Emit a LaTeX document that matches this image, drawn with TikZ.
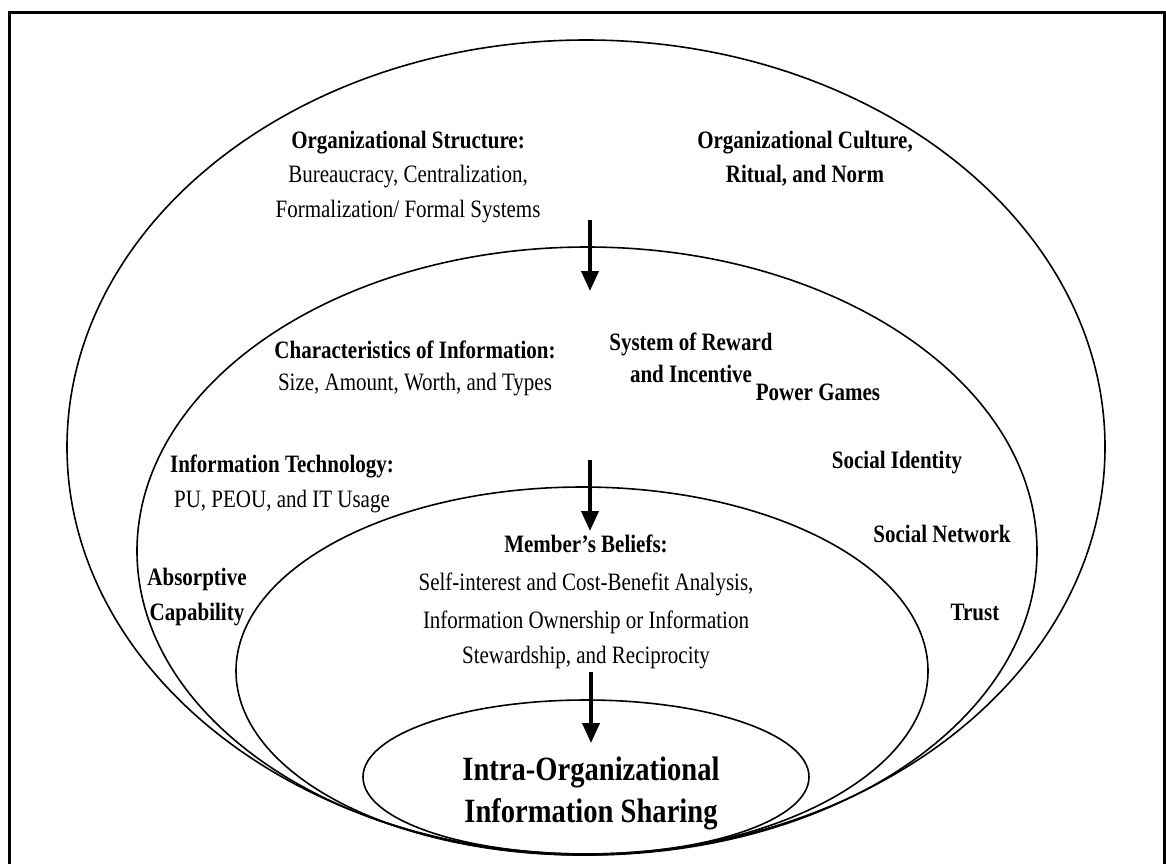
\documentclass[tikz,border=0pt]{standalone}
\usepackage{fontspec}
\setmainfont{Liberation Serif}[FakeStretch=0.84]
\usetikzlibrary{shapes.geometric,arrows.meta}
\tikzset{
  lbl/.style={inner sep=0pt, anchor=base, font=\fontsize{25}{35}\selectfont},
  hd/.style={inner sep=0pt, anchor=base, font=\fontsize{25}{35}\selectfont\bfseries},
  big/.style={inner sep=0pt, anchor=base, font=\fontsize{34}{42}\selectfont\bfseries},
  ring/.style={draw, ellipse, line width=1.6pt, inner sep=0pt},
  flow/.style={line width=4pt, -{Triangle[length=20pt,width=17pt]}},
  frame/.style={line width=3pt}
}
\begin{document}
\begin{tikzpicture}[x=1pt,y=-1pt]
\useasboundingbox (0,0) rectangle (1166,863);
% frame
\coordinate (f1) at (9,870);
\coordinate (f2) at (9,12);
\coordinate (f3) at (1164,12);
\coordinate (f4) at (1164,870);
\draw[frame] (f1) -- (f2) -- (f3) -- (f4);
% rings
\node[ring, minimum width=1038pt, minimum height=814pt] (outer) at (586,447) {};
\node[ring, minimum width=900pt, minimum height=608pt] (middle) at (587,551) {};
\node[ring, minimum width=692pt, minimum height=368pt] (inner) at (582,671) {};
\node[ring, minimum width=446pt, minimum height=154pt] (core) at (586,777) {};
% outer texts
\node[hd] (os1) at (408,148) {Organizational Structure:};
\node[lbl] (os2) at (408,182) {Bureaucracy, Centralization,};
\node[lbl] (os3) at (408,217) {Formalization/ Formal Systems};
\node[hd] (oc1) at (805,148) {Organizational Culture,};
\node[hd] (oc2) at (805,182) {Ritual, and Norm};
% middle texts
\node[hd] (ci1) at (415,358) {Characteristics of Information:};
\node[lbl] (ci2) at (415,390) {Size, Amount, Worth, and Types};
\node[hd] (sr1) at (691,350) {System of Reward};
\node[hd] (sr2) at (691,382) {and Incentive};
\node[hd] (pg) at (818,400) {Power Games};
\node[hd] (it1) at (282,472) {Information Technology:};
\node[lbl] (it2) at (282,507) {PU, PEOU, and IT Usage};
\node[hd] (si) at (897,468) {Social Identity};
\node[hd] (sn) at (942,542) {Social Network};
\node[hd] (ac1) at (197,585) {Absorptive};
\node[hd] (ac2) at (197,620) {Capability};
\node[hd] (tr) at (975,620) {Trust};
% inner texts
\node[hd] (mb1) at (586,552) {Member’s Beliefs:};
\node[lbl] (mb2) at (586,590) {Self-interest and Cost-Benefit Analysis,};
\node[lbl] (mb3) at (586,628) {Information Ownership or Information};
\node[lbl] (mb4) at (586,663) {Stewardship, and Reciprocity};
% core
\node[big] (is1) at (591,780) {Intra-Organizational};
\node[big] (is2) at (591,822) {Information Sharing};
% arrows
\coordinate (a1s) at (590,220);
\coordinate (a1e) at (590,291);
\coordinate (a2s) at (590,460);
\coordinate (a2e) at (590,531);
\coordinate (a3s) at (591,672);
\coordinate (a3e) at (591,743);
\draw[flow] (a1s) -- (a1e);
\draw[flow] (a2s) -- (a2e);
\draw[flow] (a3s) -- (a3e);
\end{tikzpicture}
\end{document}
